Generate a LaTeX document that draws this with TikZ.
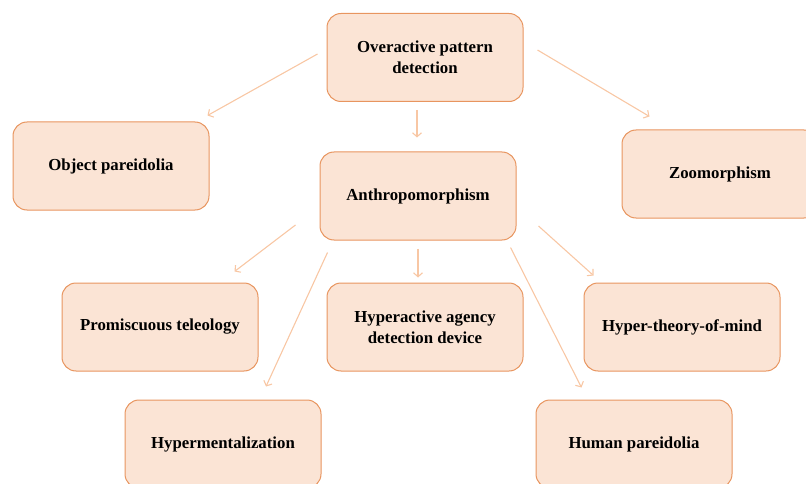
\documentclass[tikz,border=0pt]{standalone}
\usepackage{fontspec}
\setmainfont{Liberation Serif}
\usetikzlibrary{positioning, arrows.meta}
\definecolor{peachfill}{HTML}{FBE4D5}
\definecolor{peachline}{HTML}{E8955F}
\definecolor{peacharrow}{HTML}{F8C7A4}

\begin{document}
\begin{tikzpicture}[x=1pt, y=-1pt, font=\fontsize{16.8}{21}\selectfont\bfseries,
    box/.style={draw=peachline, fill=peachfill, line width=1pt, rounded corners=14pt,
      minimum width=196pt, minimum height=88pt, align=center, inner sep=2pt},
    link/.style={draw=peacharrow, line width=1.1pt, -{Straight Barb[length=4pt, width=9pt]}}]
  \useasboundingbox (0,0) rectangle (806,484);

  % top level
  \node[box] (overactive) at (425,57.5) {Overactive pattern\\detection};
  \node[box] (objpar) at (111,166) {Object pareidolia};
  \node[box] (anthro) at (418,196) {Anthropomorphism};
  \node[box] (zoo) at (720,174) {Zoomorphism};

  % second level
  \node[box] (promis) at (160,327) {Promiscuous teleology};
  \node[box] (hadd) at (425,327) {Hyperactive agency\\detection device};
  \node[box] (hypertom) at (682,327) {Hyper-theory-of-mind};
  \node[box] (hyperment) at (223,444) {Hypermentalization};
  \node[box] (humpar) at (634,444) {Human pareidolia};

  % links from overactive pattern detection
  \draw[link] ([xshift=-9pt, yshift=3.5pt]overactive.west) -- ([xshift=-2pt, yshift=6pt]objpar.north east);
  \draw[link] ([xshift=-8pt, yshift=-8pt]overactive.south) -- ([xshift=-1pt, yshift=14pt]anthro.north);
  \draw[link] ([xshift=14pt, yshift=7.5pt]overactive.east) -- ([xshift=28pt, yshift=13pt]zoo.north west);

  % links from anthropomorphism
  \draw[link] ([xshift=-24pt, yshift=-29pt]anthro.west) -- ([xshift=-24pt, yshift=11pt]promis.north east);
  \draw[link] ([yshift=-8pt]anthro.south) -- ([xshift=-7pt, yshift=5pt]hadd.north);
  \draw[link] ([xshift=22pt, yshift=-30pt]anthro.east) -- ([xshift=10pt, yshift=7pt]hypertom.north west);
  \draw[link] ([xshift=8pt, yshift=-12pt]anthro.south west) -- ([xshift=43pt, yshift=13pt]hyperment.north);
  \draw[link] ([xshift=-6pt, yshift=-7pt]anthro.south east) -- ([xshift=46pt, yshift=12pt]humpar.north west);
\end{tikzpicture}
\end{document}
